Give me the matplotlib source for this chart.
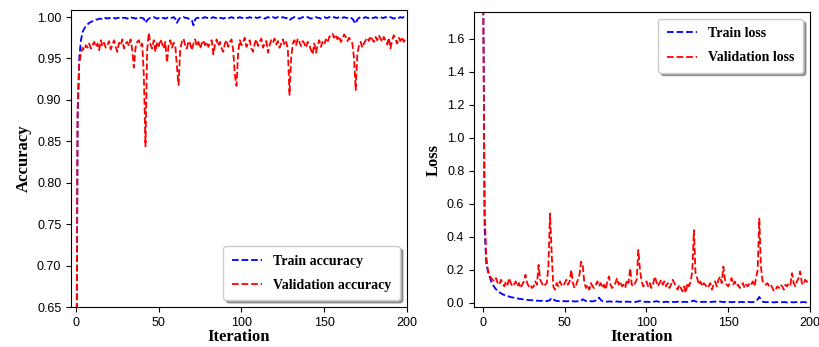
import numpy as np
import matplotlib
matplotlib.use("Agg")
import matplotlib.pyplot as plt

train_acc = [
    0.40, 0.88, 0.950, 0.972, 0.982, 0.986, 0.989, 0.991, 0.993, 0.994,
    0.995, 0.996, 0.997, 0.997, 0.998, 0.998, 0.997, 0.998, 0.999, 0.998,
    0.999, 0.998, 0.999, 0.999, 0.998, 0.999, 0.999, 0.998, 0.999, 0.999,
    0.999, 0.998, 0.999, 1.000, 0.999, 0.999, 0.998, 0.999, 1.000, 0.999,
    0.999, 0.998, 0.993, 0.996, 0.998, 0.999, 0.999, 1.000, 0.999, 0.998,
    0.999, 1.000, 0.999, 0.999, 0.998, 0.999, 1.000, 0.999, 0.999, 1.000,
    0.998, 0.993, 0.997, 0.999, 0.999, 1.000, 0.999, 0.999, 0.998, 0.998,
    0.996, 0.990, 0.997, 0.999, 0.999, 1.000, 0.999, 0.999, 1.000, 0.999,
    0.999, 0.998, 0.999, 1.000, 0.999, 0.999, 1.000, 0.999, 0.999, 0.998,
    0.999, 1.000, 0.999, 0.999, 1.000, 0.999, 0.998, 0.999, 0.999, 1.000,
    0.999, 0.999, 1.000, 0.999, 0.999, 1.000, 0.999, 0.999, 1.000, 0.999,
    0.999, 1.000, 0.999, 0.999, 0.998, 0.999, 1.000, 0.999, 0.999, 1.000,
    0.999, 0.999, 1.000, 0.999, 0.999, 1.000, 0.999, 0.999, 0.998, 0.996,
    0.998, 0.999, 1.000, 0.999, 0.999, 0.998, 0.999, 1.000, 0.999, 0.999,
    1.000, 0.999, 0.998, 0.999, 0.999, 1.000, 0.999, 0.999, 0.998, 0.999,
    1.000, 0.999, 0.999, 1.000, 0.999, 0.999, 1.000, 0.999, 0.999, 1.000,
    0.999, 0.999, 1.000, 0.999, 0.999, 1.000, 0.999, 0.998, 0.995, 0.992,
    0.997, 0.999, 1.000, 0.999, 0.999, 1.000, 0.999, 0.999, 1.000, 0.999,
    0.999, 1.000, 0.999, 0.999, 1.000, 0.999, 0.999, 1.000, 0.999, 0.999,
    1.000, 0.999, 0.998, 0.999, 1.000, 0.999, 1.000, 0.999, 1.000, 1.000,
]

val_acc = [
    0.45, 0.89, 0.945, 0.955, 0.963, 0.960, 0.966, 0.963, 0.968, 0.962,
    0.966, 0.970, 0.964, 0.968, 0.960, 0.972, 0.965, 0.969, 0.963, 0.966,
    0.971, 0.961, 0.967, 0.972, 0.964, 0.958, 0.969, 0.966, 0.973, 0.962,
    0.968, 0.970, 0.965, 0.973, 0.960, 0.939, 0.963, 0.970, 0.972, 0.965,
    0.968, 0.930, 0.844, 0.960, 0.981, 0.967, 0.962, 0.972, 0.958, 0.970,
    0.965, 0.973, 0.968, 0.962, 0.970, 0.945, 0.966, 0.972, 0.963, 0.969,
    0.966, 0.940, 0.918, 0.962, 0.970, 0.974, 0.966, 0.962, 0.971, 0.968,
    0.960, 0.968, 0.973, 0.965, 0.970, 0.962, 0.968, 0.972, 0.966, 0.970,
    0.964, 0.969, 0.972, 0.955, 0.967, 0.973, 0.965, 0.970, 0.962, 0.958,
    0.968, 0.972, 0.964, 0.970, 0.973, 0.960, 0.930, 0.917, 0.958, 0.972,
    0.966, 0.970, 0.975, 0.964, 0.969, 0.972, 0.962, 0.958, 0.968, 0.973,
    0.965, 0.970, 0.974, 0.963, 0.968, 0.971, 0.957, 0.966, 0.972, 0.969,
    0.974, 0.967, 0.971, 0.963, 0.968, 0.973, 0.966, 0.970, 0.962, 0.906,
    0.950, 0.968, 0.972, 0.966, 0.974, 0.970, 0.965, 0.971, 0.968, 0.963,
    0.970, 0.966, 0.960, 0.955, 0.968, 0.957, 0.966, 0.972, 0.964, 0.970,
    0.967, 0.973, 0.969, 0.976, 0.978, 0.980, 0.975, 0.979, 0.973, 0.977,
    0.970, 0.974, 0.979, 0.976, 0.971, 0.975, 0.972, 0.968, 0.950, 0.912,
    0.955, 0.966, 0.970, 0.963, 0.968, 0.972, 0.975, 0.971, 0.977, 0.973,
    0.970, 0.976, 0.972, 0.978, 0.974, 0.970, 0.976, 0.972, 0.967, 0.975,
    0.962, 0.972, 0.978, 0.974, 0.968, 0.975, 0.971, 0.976, 0.970, 0.973,
]

train_loss = [
    2.20, 0.45, 0.24, 0.19, 0.16, 0.13, 0.11, 0.095, 0.082, 0.072,
    0.064, 0.058, 0.052, 0.048, 0.044, 0.041, 0.038, 0.035, 0.033, 0.031,
    0.029, 0.027, 0.025, 0.024, 0.022, 0.021, 0.020, 0.018, 0.017, 0.016,
    0.016, 0.015, 0.014, 0.013, 0.013, 0.012, 0.013, 0.011, 0.012, 0.011,
    0.012, 0.018, 0.030, 0.022, 0.015, 0.012, 0.011, 0.010, 0.012, 0.010,
    0.011, 0.009, 0.010, 0.011, 0.009, 0.010, 0.008, 0.010, 0.009, 0.008,
    0.012, 0.022, 0.016, 0.011, 0.009, 0.008, 0.010, 0.009, 0.011, 0.015,
    0.025, 0.032, 0.018, 0.011, 0.009, 0.008, 0.007, 0.009, 0.008, 0.007,
    0.008, 0.007, 0.009, 0.007, 0.006, 0.008, 0.007, 0.006, 0.008, 0.007,
    0.006, 0.007, 0.008, 0.006, 0.007, 0.009, 0.012, 0.010, 0.007, 0.006,
    0.007, 0.006, 0.005, 0.007, 0.006, 0.008, 0.010, 0.008, 0.006, 0.007,
    0.006, 0.005, 0.007, 0.006, 0.005, 0.007, 0.006, 0.005, 0.006, 0.007,
    0.005, 0.006, 0.005, 0.007, 0.006, 0.005, 0.007, 0.008, 0.011, 0.014,
    0.009, 0.006, 0.005, 0.006, 0.005, 0.007, 0.006, 0.005, 0.006, 0.005,
    0.006, 0.007, 0.008, 0.009, 0.010, 0.008, 0.006, 0.005, 0.006, 0.005,
    0.006, 0.005, 0.004, 0.005, 0.006, 0.005, 0.004, 0.005, 0.006, 0.005,
    0.004, 0.005, 0.006, 0.005, 0.004, 0.005, 0.006, 0.010, 0.022, 0.036,
    0.018, 0.008, 0.005, 0.004, 0.005, 0.004, 0.005, 0.004, 0.003, 0.004,
    0.005, 0.004, 0.003, 0.004, 0.005, 0.004, 0.003, 0.004, 0.005, 0.004,
    0.003, 0.004, 0.005, 0.004, 0.003, 0.004, 0.005, 0.004, 0.003, 0.004,
]

val_loss = [
    2.00, 0.55, 0.28, 0.20, 0.17, 0.15, 0.14, 0.13, 0.15, 0.12,
    0.11, 0.14, 0.12, 0.10, 0.13, 0.11, 0.15, 0.12, 0.10, 0.11,
    0.13, 0.10, 0.12, 0.09, 0.11, 0.13, 0.17, 0.12, 0.10, 0.11,
    0.09, 0.10, 0.13, 0.11, 0.23, 0.14, 0.12, 0.10, 0.11, 0.12,
    0.22, 0.54, 0.30, 0.10, 0.08, 0.12, 0.10, 0.13, 0.11, 0.10,
    0.12, 0.14, 0.11, 0.13, 0.20, 0.12, 0.09, 0.11, 0.14, 0.17,
    0.25, 0.23, 0.12, 0.09, 0.11, 0.08, 0.12, 0.10, 0.09, 0.11,
    0.13, 0.10, 0.12, 0.09, 0.11, 0.08, 0.13, 0.16, 0.11, 0.09,
    0.10, 0.12, 0.15, 0.11, 0.13, 0.10, 0.11, 0.09, 0.14, 0.12,
    0.21, 0.11, 0.10, 0.12, 0.14, 0.32, 0.20, 0.13, 0.10, 0.11,
    0.13, 0.10, 0.12, 0.09, 0.11, 0.16, 0.13, 0.10, 0.12, 0.14,
    0.11, 0.13, 0.10, 0.12, 0.09, 0.11, 0.14, 0.12, 0.10, 0.08,
    0.11, 0.09, 0.07, 0.10, 0.06, 0.12, 0.10, 0.13, 0.19, 0.44,
    0.17, 0.15, 0.11, 0.13, 0.10, 0.12, 0.11, 0.09, 0.10, 0.12,
    0.08, 0.11, 0.13, 0.10, 0.14, 0.16, 0.12, 0.22, 0.14, 0.11,
    0.10, 0.12, 0.15, 0.11, 0.13, 0.10, 0.11, 0.09, 0.10, 0.12,
    0.09, 0.11, 0.10, 0.12, 0.11, 0.13, 0.10, 0.15, 0.20, 0.51,
    0.22, 0.13, 0.12, 0.11, 0.12, 0.10, 0.11, 0.09, 0.07, 0.08,
    0.10, 0.09, 0.11, 0.10, 0.08, 0.11, 0.10, 0.12, 0.11, 0.18,
    0.12, 0.10, 0.13, 0.15, 0.19, 0.12, 0.11, 0.14, 0.13, 0.12,
]

iterations = np.arange(len(train_acc))

tick_font = "Liberation Sans"
label_font = {"family": "Liberation Serif", "weight": "bold", "size": 12}
legend_font = {"family": "Liberation Serif", "weight": "bold", "size": 10}

fig = plt.figure(figsize=(8.19, 3.47), dpi=100)
ax1 = fig.add_axes([71 / 819, 40 / 347, 336 / 819, 297 / 347])
ax2 = fig.add_axes([474 / 819, 40 / 347, 336 / 819, 295 / 347])

lw = 1.3
ax1.plot(iterations, train_acc, "b--", lw=lw, label="Train accuracy")
ax1.plot(iterations, val_acc, "r--", lw=lw, label="Validation accuracy")
ax1.set_xlim(-3, 200)
ax1.set_ylim(0.65, 1.0085)
ax1.set_yticks([0.65, 0.70, 0.75, 0.80, 0.85, 0.90, 0.95, 1.00])
ax1.set_xticks([0, 50, 100, 150, 200])
ax1.set_xlabel("Iteration", fontdict=label_font, labelpad=0)
ax1.set_ylabel("Accuracy", fontdict=label_font)
ax1.legend(loc="lower right", prop=legend_font, shadow=True, fancybox=True,
           borderpad=0.6, labelspacing=0.8, handlelength=2.2)

ax2.plot(iterations, train_loss, "b--", lw=lw, label="Train loss")
ax2.plot(iterations, val_loss, "r--", lw=lw, label="Validation loss")
ax2.set_xlim(-5.5, 200)
ax2.set_ylim(-0.025, 1.762)
ax2.set_yticks([0.0, 0.2, 0.4, 0.6, 0.8, 1.0, 1.2, 1.4, 1.6])
ax2.set_xticks([0, 50, 100, 150, 200])
ax2.set_xlabel("Iteration", fontdict=label_font, labelpad=0)
ax2.set_ylabel("Loss", fontdict=label_font)
ax2.legend(loc="upper right", prop=legend_font, shadow=True, fancybox=True,
           borderpad=0.6, labelspacing=0.8, handlelength=2.2)

for ax in (ax1, ax2):
    for lab in ax.get_xticklabels() + ax.get_yticklabels():
        lab.set_fontfamily(tick_font)
        lab.set_fontsize(9)
    ax.tick_params(length=3.5, width=0.8)

fig.savefig("out.png", dpi=100)
